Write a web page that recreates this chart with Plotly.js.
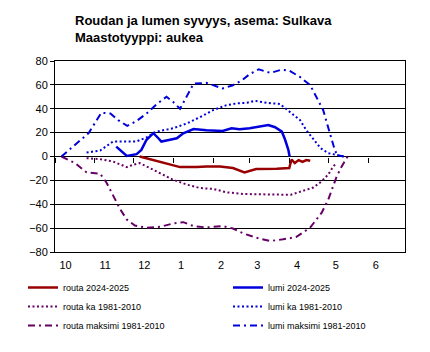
<!DOCTYPE html>
<html>
<head>
<meta charset="utf-8">
<script src="https://cdn.plot.ly/plotly-3.0.1.min.js"></script>
<style>html,body{margin:0;padding:0;background:#fff;}#chart{width:430px;height:352px;}</style>
</head>
<body>
<div id="chart"></div>
<script>
// x values: days since 1 October
const monthStartDays = [0, 31, 61, 92, 123, 151, 182, 212, 243];
const monthLabels = ['10', '11', '12', '1', '2', '3', '4', '5', '6'];

const routaNowDays = [65.7, 76.3, 86.5, 97, 110, 117.5, 128, 138, 147, 156, 172, 181.7, 183.5, 186, 189, 192, 195, 198];
const routaNowVals = [0, -2.8, -5.5, -8.9, -8.9, -8.3, -8.3, -9.7, -13.3, -10.5, -10.3, -9.7, -2.5, -5.5, -3, -4.5, -3, -3.5];

const routaAvgDays = [24.5, 35, 45, 55.7, 60.7, 65.6, 71, 81.5, 91.5, 102.5, 112.5, 123, 133, 146, 164, 177, 183, 192.6, 200.4, 206.9, 212, 215.9, 218.5];
const routaAvgVals = [-1.4, -2.2, -4.2, -8.9, -6.9, -5.5, -8.3, -13.9, -19.4, -23.6, -26.4, -27.2, -30, -31.4, -32, -32, -32, -29, -26, -20.8, -15, -8.3, -5.5];

const routaMaxDays = [5, 15.5, 24.5, 35, 40, 45, 50.5, 55.7, 62, 71, 81.5, 92, 99.5, 107.5, 117.5, 123, 130, 138, 146, 156, 166.8, 177, 187, 197.8, 206.9, 212, 214.7, 218.5, 222.4, 226.3, 227];
const routaMaxVals = [0, -5.5, -13.3, -14.4, -22, -33, -44, -52.8, -57.8, -59.7, -58.9, -56, -55, -58.3, -59.4, -58.9, -58.3, -60.3, -64.4, -68, -70.8, -69.4, -67.5, -59.7, -47, -36, -27.8, -16.7, -8.3, -1.4, 0];

const lumiNowDays = [47.5, 55.7, 63.3, 67, 71, 76.3, 80.2, 82.5, 89.2, 94.5, 99.5, 107.5, 117.5, 123, 130, 137, 143.2, 151, 157.8, 165.5, 170.7, 176, 178.5, 181, 182];
const lumiNowVals = [8.3, 0.5, 2, 5.5, 14, 19.5, 15.3, 12.5, 14, 15.3, 19.5, 23, 22, 21.7, 21.4, 23.6, 22.8, 23.6, 25, 26.4, 24.5, 20.8, 14, 5.6, 0];

const lumiAvgDays = [24.5, 35, 45, 58, 63, 71, 78.5, 91.5, 102.5, 112.5, 123, 133, 141, 149, 155, 164, 174.5, 182, 190, 195, 200.5, 206, 212, 218.5, 224];
const lumiAvgVals = [3.3, 5, 12.5, 12.5, 12.5, 16, 20.8, 23.6, 27.8, 33, 39, 43, 44.5, 45, 46.7, 45, 44, 37.5, 30.6, 22, 14, 7, 2.8, 1, 0];

const lumiMaxDays = [5, 26, 36, 43, 49, 56, 63, 71, 79, 86.5, 91.5, 97, 102.5, 107.5, 117.5, 125.5, 130, 138, 145, 151, 158, 167, 176, 182, 190, 198, 203, 208, 211, 214.5, 217, 219, 224];
const lumiMaxVals = [0, 19.5, 36.7, 36, 30.5, 25.6, 29.5, 36, 44, 50, 45.8, 40, 51, 61, 61.7, 58.3, 57, 59.7, 63.9, 69, 73, 70, 72.8, 71.7, 66.7, 59.7, 50, 39, 27.8, 14, 5.6, 1, 0];

const RED = '#990000', PURPLE = '#660066', BLUE = '#0000DD';
const DOT = '2px,2.5px', DASHDOT = '7px,4px,2px,4px';

const traces = [
  {x: routaNowDays, y: routaNowVals, name: 'routa 2024-2025', line: {color: RED, width: 2.5}, legend: 'legend'},
  {x: routaAvgDays, y: routaAvgVals, name: 'routa ka 1981-2010', line: {color: PURPLE, width: 2, dash: DOT}, legend: 'legend', xaxis: 'x2'},
  {x: routaMaxDays, y: routaMaxVals, name: 'routa maksimi 1981-2010', line: {color: PURPLE, width: 2, dash: DASHDOT}, legend: 'legend'},
  {x: lumiNowDays, y: lumiNowVals, name: 'lumi 2024-2025', line: {color: BLUE, width: 2.5}, legend: 'legend2'},
  {x: lumiAvgDays, y: lumiAvgVals, name: 'lumi ka 1981-2010', line: {color: BLUE, width: 2, dash: DOT}, legend: 'legend2'},
  {x: lumiMaxDays, y: lumiMaxVals, name: 'lumi maksimi 1981-2010', line: {color: BLUE, width: 2, dash: DASHDOT}, legend: 'legend2'}
].map(t => Object.assign({type: 'scatter', mode: 'lines', hoverinfo: 'skip'}, t));

const FONT = 'Arial, "Liberation Sans", sans-serif';
const xRange = [0, 271.5];
const legendBase = {
  orientation: 'v', xanchor: 'left', yanchor: 'top',
  xref: 'container', yref: 'container', y: 1 - 273 / 352,
  font: {family: FONT, size: 9, color: '#000'}, bgcolor: 'rgba(0,0,0,0)',
  borderwidth: 0, itemwidth: 30, traceorder: 'normal', tracegroupgap: 0
};

const layout = {
  width: 430, height: 352,
  margin: {l: 55, r: 25, t: 61, b: 99.5, autoexpand: false},
  paper_bgcolor: '#fff', plot_bgcolor: '#fff',
  font: {family: FONT, size: 11, color: '#000'},
  title: {
    text: '<b>Roudan ja lumen syvyys, asema: Sulkava<br>Maastotyyppi: aukea</b>',
    font: {family: FONT, size: 13, color: '#000'},
    x: 75 / 430, xanchor: 'left', xref: 'container',
    y: 1 - 25 / 352, yanchor: 'top', yref: 'container'
  },
  xaxis: {
    range: xRange, tickvals: monthStartDays, ticktext: monthLabels,
    ticks: '', showgrid: false, zeroline: false,
    showline: true, linecolor: '#000', linewidth: 1, mirror: true,
    ticklabelposition: 'outside right', ticklabelshift: 4, ticklabelstandoff: 3,
    tickfont: {family: FONT, size: 11, color: '#000'}, fixedrange: true
  },
  xaxis2: {
    range: xRange, overlaying: 'x', anchor: 'free', position: 0.5, side: 'bottom',
    tickvals: monthStartDays, ticks: 'outside', ticklen: 5, tickwidth: 1, tickcolor: '#000',
    showticklabels: false, showgrid: false, zeroline: false, showline: false, fixedrange: true
  },
  yaxis: {
    range: [-80, 80], tickvals: [-80, -60, -40, -20, 0, 20, 40, 60, 80],
    showgrid: true, gridcolor: '#000', gridwidth: 1,
    zeroline: true, zerolinecolor: '#000', zerolinewidth: 1,
    showline: true, linecolor: '#000', linewidth: 1, mirror: true,
    ticks: 'outside', ticklen: 4, tickcolor: '#000',
    tickfont: {family: FONT, size: 11, color: '#000'}, fixedrange: true
  },
  showlegend: true,
  legend: Object.assign({}, legendBase, {x: 23 / 430}),
  legend2: Object.assign({}, legendBase, {x: 228 / 430})
};

Plotly.newPlot('chart', traces, layout, {displayModeBar: false, staticPlot: true});
</script>
</body>
</html>
